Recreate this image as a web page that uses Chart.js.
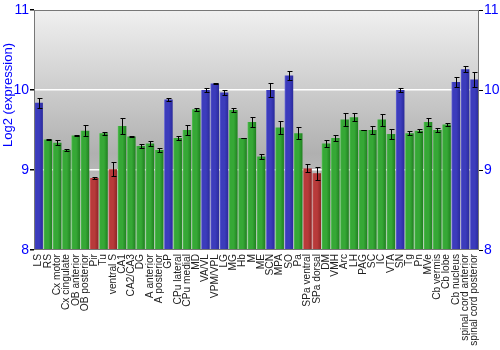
<!DOCTYPE html>
<html>
<head>
<meta charset="utf-8">
<script src="https://cdn.jsdelivr.net/npm/chart.js@4/dist/chart.umd.min.js"></script>
<style>
  html, body { margin: 0; padding: 0; background: #fff; }
  #wrap { width: 500px; height: 350px; }
</style>
</head>
<body>
<div id="wrap"><canvas id="exprChart" width="500" height="350"></canvas></div>
<script>
// Brain regions and their log2 expression (mean +/- error)
const regions = ['LS', 'RS', 'Cx motor', 'Cx cingulate', 'OB anterior', 'OB posterior', 'Pir', 'Tu',
    'ventral S', 'CA1', 'CA2/CA3', 'DG', 'A anterior', 'A posterior', 'GP', 'CPu lateral', 'CPu medial',
    'MD', 'VA/VL', 'VPM/VPL', 'LG', 'MG', 'Hb', 'M', 'ME', 'SCN', 'MPA', 'SO', 'Pa', 'SPa ventral',
    'SPa dorsal', 'DM', 'VMH', 'Arc', 'LH', 'PAG', 'SC', 'IC', 'VTA', 'SN', 'Tg', 'Pn', 'MVe',
    'Cb vermis', 'Cb lobe', 'Cb nucleus', 'spinal cord anterior', 'spinal cord posterior'];

const means = [9.84, 9.38, 9.34, 9.25, 9.43, 9.49, 8.90, 9.46,
    9.01, 9.55, 9.42, 9.30, 9.33, 9.25, 9.88, 9.40, 9.50,
    9.76, 10.00, 10.08, 9.97, 9.75, 9.40, 9.60, 9.17, 10.00, 9.53, 10.18, 9.46, 9.02,
    8.96, 9.33, 9.40, 9.63, 9.66, 9.50, 9.50, 9.63, 9.45, 10.00, 9.46, 9.49, 9.60,
    9.50, 9.57, 10.10, 10.26, 10.13];

const errors = [0.06, 0.01, 0.03, 0.01, 0.01, 0.07, 0.015, 0.02,
    0.09, 0.10, 0.01, 0.03, 0.03, 0.03, 0.02, 0.03, 0.06,
    0.02, 0.02, 0.01, 0.03, 0.03, 0.005, 0.06, 0.03, 0.09, 0.08, 0.055, 0.075, 0.05,
    0.08, 0.04, 0.035, 0.08, 0.05, 0.005, 0.055, 0.075, 0.06, 0.025, 0.025, 0.02, 0.055,
    0.02, 0.02, 0.065, 0.04, 0.09];

// b = high, g = mid, r = low
const groups = ['b', 'g', 'g', 'g', 'g', 'g', 'r', 'g',
    'r', 'g', 'g', 'g', 'g', 'g', 'b', 'g', 'g',
    'g', 'b', 'b', 'b', 'g', 'g', 'g', 'g', 'b', 'g', 'b', 'g', 'r',
    'r', 'g', 'g', 'g', 'g', 'g', 'g', 'g', 'g', 'b', 'g', 'g', 'g',
    'g', 'g', 'b', 'b', 'b'];

const yTicks = [8, 9, 10, 11];
const yTitle = 'Log2 (expression)';

const shades = {
    b: ['#6b6bd6', '#3c3cbc', '#2a2a9c'],
    g: ['#5cc65c', '#36a836', '#1f801f'],
    r: ['#d06060', '#b83a3a', '#8e2626']
};

const BAR_PCT = 0.92;
const FONT = '"Liberation Sans", Arial, sans-serif';

// horizontal shading for each bar, so they look rounded
function barFill(c) {
    const chart = c.chart;
    const x = chart.scales.x;
    const s = shades[groups[c.dataIndex]] || shades.g;
    if (!x || c.dataIndex === undefined) return s[1];
    const cx = x.getPixelForValue(c.dataIndex);
    const half = x.width / regions.length * BAR_PCT / 2;
    if (!isFinite(cx) || !isFinite(half) || half <= 0) return s[1];
    const g = chart.ctx.createLinearGradient(cx - half, 0, cx + half, 0);
    g.addColorStop(0, s[0]);
    g.addColorStop(0.15, s[1]);
    g.addColorStop(0.55, s[1]);
    g.addColorStop(1, s[2]);
    return g;
}

const plotDecor = {
    id: 'plotDecor',
    beforeDraw(chart) {
        const { ctx, chartArea: a } = chart;
        const g = ctx.createLinearGradient(0, a.top, 0, a.bottom);
        g.addColorStop(0, '#f0f0f0');
        g.addColorStop(0.6, '#b0b0b0');
        g.addColorStop(1, '#d8d8d8');
        ctx.save();
        ctx.fillStyle = g;
        ctx.fillRect(a.left, a.top, a.right - a.left, a.bottom - a.top);
        ctx.restore();
    },
    afterDatasetsDraw(chart) {
        // error bars
        const { ctx } = chart;
        const y = chart.scales.y;
        const meta = chart.getDatasetMeta(0);
        ctx.save();
        ctx.strokeStyle = '#000';
        ctx.lineWidth = 1;
        meta.data.forEach((bar, i) => {
            const top = Math.round(y.getPixelForValue(means[i] + errors[i])) + 0.5;
            const bot = Math.round(y.getPixelForValue(means[i] - errors[i])) + 0.5;
            const bx = Math.round(bar.x) + 0.5;
            ctx.beginPath();
            ctx.moveTo(bx, top);
            ctx.lineTo(bx, bot);
            ctx.moveTo(bx - 2, top);
            ctx.lineTo(bx + 3, top);
            ctx.moveTo(bx - 2, bot);
            ctx.lineTo(bx + 3, bot);
            ctx.stroke();
        });
        ctx.restore();
    },
    afterDraw(chart) {
        const { ctx, chartArea: a } = chart;
        ctx.save();
        ctx.strokeStyle = '#777';
        ctx.lineWidth = 1;
        ctx.strokeRect(a.left + 0.5, a.top + 0.5, a.right - a.left - 1, a.bottom - a.top - 1);
        // axis title, sitting a bit above the middle of the axis
        ctx.translate(8, 95);
        ctx.rotate(-Math.PI / 2);
        ctx.fillStyle = '#0000ff';
        ctx.font = '13px ' + FONT;
        ctx.textAlign = 'center';
        ctx.textBaseline = 'middle';
        ctx.fillText(yTitle, 0, 0);
        ctx.restore();
    }
};

const yTickOpts = {
    color: '#0000ff',
    font: { family: FONT, size: 14 },
    padding: 1,
    autoSkip: false,
    stepSize: 1
};

new Chart(document.getElementById('exprChart').getContext('2d'), {
    type: 'bar',
    data: {
        labels: regions,
        datasets: [{
            data: means,
            backgroundColor: barFill,
            borderWidth: 0,
            barPercentage: BAR_PCT,
            categoryPercentage: 1.0,
            base: 8
        }]
    },
    options: {
        responsive: false,
        animation: false,
        events: [],
        layout: { padding: { top: 10, right: 0, left: 0, bottom: 0 } },
        plugins: { legend: { display: false }, tooltip: { enabled: false } },
        scales: {
            x: {
                grid: { display: false, drawTicks: false, tickLength: 0 },
                border: { display: false },
                ticks: {
                    color: '#222',
                    font: { family: FONT, size: 10.2 },
                    minRotation: 90,
                    maxRotation: 90,
                    autoSkip: false,
                    padding: 4
                },
                afterFit(s) { s.height = 100; }
            },
            y: {
                position: 'left',
                min: 8,
                max: 11,
                afterBuildTicks(s) { s.ticks = yTicks.map(v => ({ value: v })); },
                grid: { color: '#ffffff', lineWidth: 1.5, tickLength: 4, tickColor: '#000' },
                border: { display: false },
                ticks: yTickOpts,
                afterFit(s) { s.width = 34; }
            },
            y2: {
                position: 'right',
                min: 8,
                max: 11,
                afterBuildTicks(s) { s.ticks = yTicks.map(v => ({ value: v })); },
                grid: { drawOnChartArea: false, tickLength: 4, tickColor: '#000' },
                border: { display: false },
                ticks: yTickOpts,
                afterFit(s) { s.width = 21; }
            }
        }
    },
    plugins: [plotDecor]
});
</script>
</body>
</html>
